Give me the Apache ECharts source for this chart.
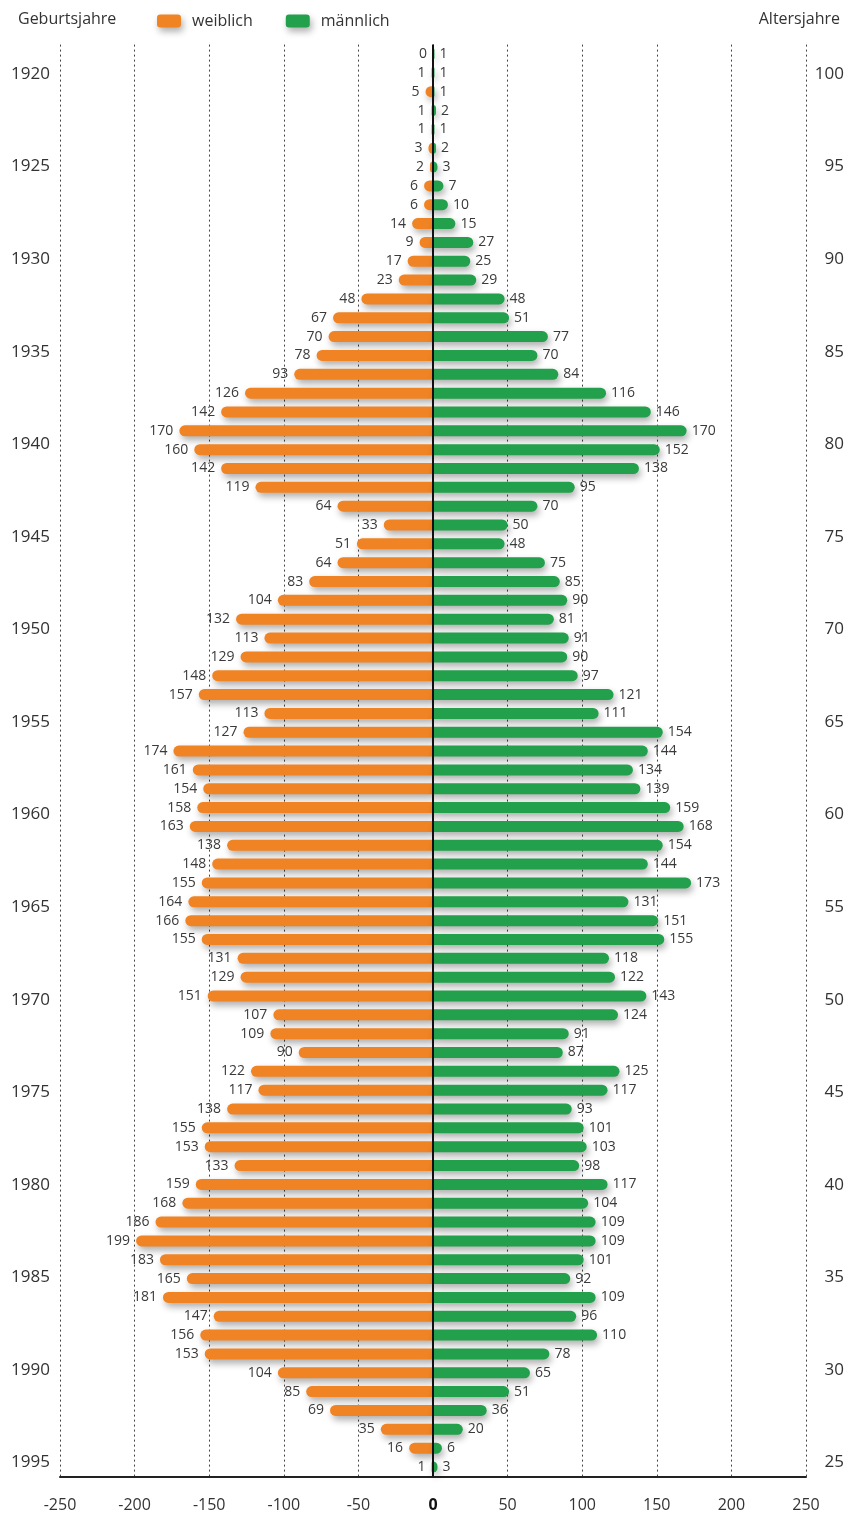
<!DOCTYPE html>
<html>
<head>
<meta charset="utf-8">
<script src="https://cdn.jsdelivr.net/npm/echarts@6/dist/echarts.min.js"></script>
<style>
  html, body { margin: 0; padding: 0; background: #fff; }
  #chart { width: 847px; height: 1518px; }
</style>
</head>
<body>
<div id="chart"></div>
<script>
// Birth cohorts, oldest at the top
const birthYears = [];
for (let y = 1919; y <= 1994; y++) birthYears.push(String(y));

// Persons per birth year
const weiblich = [0,1,5,1,1,3,2,6,6,14, 9,17,23,48,67,70,78,93,126,142,
  170,160,142,119,64,33,51,64,83,104, 132,113,129,148,157,113,127,174,161,154,
  158,163,138,148,155,164,166,155,131,129, 151,107,109,90,122,117,138,155,153,133,
  159,168,186,199,183,165,181,147,156,153, 104,85,69,35,16,1];
const maennlich = [1,1,1,2,1,2,3,7,10,15, 27,25,29,48,51,77,70,84,116,146,
  170,152,138,95,70,50,48,75,85,90, 81,91,90,97,121,111,154,144,134,139,
  159,168,154,144,173,131,151,155,118,122, 143,124,91,87,125,117,93,101,103,98,
  117,104,109,109,101,92,109,96,110,78, 65,51,36,20,6,3];

// Side scales: birth year on the left, age on the right
const yearTicks = [1920,1925,1930,1935,1940,1945,1950,1955,1960,1965,1970,1975,1980,1985,1990,1995];
const ageTicks = [100,95,90,85,80,75,70,65,60,55,50,45,40,35,30,25];
const yearRange = [1916, 1998];
const ageRange = [22, 104];
const valueRange = [-250, 250];

const FONT = "'Open Sans', 'Noto Sans', sans-serif";
const ORANGE = '#F08424';
const GREEN = '#22A04B';
const TXT = '#333333';

const chart = echarts.init(document.getElementById('chart'), null, { renderer: 'canvas' });

const shadow = { shadowColor: 'rgba(0,0,0,0.32)', shadowBlur: 7, shadowOffsetX: 2, shadowOffsetY: 4 };

chart.setOption({
  animation: false,
  textStyle: { fontFamily: FONT },
  title: [
    { text: 'Geburtsjahre', left: 13, top: 6,
      textStyle: { fontFamily: FONT, fontSize: 16, fontWeight: 'normal', color: TXT } },
    { text: 'Altersjahre', right: 2, top: 6,
      textStyle: { fontFamily: FONT, fontSize: 16, fontWeight: 'normal', color: TXT } }
  ],
  legend: {
    left: 152, top: 8,
    icon: 'roundRect',
    itemWidth: 24, itemHeight: 13,
    itemGap: 33,
    textStyle: { fontFamily: FONT, fontSize: 16, color: TXT, padding: [0, 0, 0, 6] },
    itemStyle: Object.assign({}, shadow),
    data: ['weiblich', 'männlich']
  },
  grid: [
    { left: 60, right: 41, top: 44.6, bottom: 41.6 },
    { left: 60, right: 41, top: 0, bottom: 0 }
  ],
  xAxis: [
    {
      type: 'value', gridIndex: 0,
      min: valueRange[0], max: valueRange[1], interval: 50,
      axisLine: { show: true, lineStyle: { color: '#222', width: 2 } },
      axisTick: { show: false },
      splitLine: { show: true, lineStyle: { color: '#444', width: 1, type: [2, 3] } },
      axisLabel: {
        margin: 21, fontSize: 16, color: TXT, fontFamily: FONT,
        formatter: v => (v === 0 ? '{z|0}' : String(v)),
        rich: { z: { fontSize: 16, fontWeight: 'bold', color: '#111', fontFamily: FONT } }
      }
    },
    { type: 'value', gridIndex: 1, show: false, min: 0, max: 1 }
  ],
  yAxis: [
    {
      type: 'category', gridIndex: 0, inverse: true, data: birthYears,
      axisLine: { show: false }, axisTick: { show: false }, axisLabel: { show: false },
      splitLine: { show: false }
    },
    {
      type: 'value', gridIndex: 1, position: 'left', inverse: true,
      min: yearRange[0], max: yearRange[1],
      axisLine: { show: false }, axisTick: { show: false }, splitLine: { show: false },
      axisLabel: { margin: 10, fontSize: 17, color: TXT, fontFamily: FONT,
        customValues: yearTicks, formatter: v => String(v) }
    },
    {
      type: 'value', gridIndex: 1, position: 'right',
      min: ageRange[0], max: ageRange[1],
      axisLine: { show: false }, axisTick: { show: false }, splitLine: { show: false },
      axisLabel: { margin: 39, align: 'right', fontSize: 17, color: TXT, fontFamily: FONT,
        customValues: ageTicks, formatter: v => String(v) }
    }
  ],
  series: [
    {
      name: 'weiblich', type: 'bar', xAxisIndex: 0, yAxisIndex: 0,
      data: weiblich.map(v => -v),
      barWidth: 11, barGap: '-100%',
      itemStyle: Object.assign({ color: ORANGE, borderRadius: [5.5, 0, 0, 5.5] }, shadow),
      label: {
        show: true, position: 'left', distance: 6,
        fontSize: 14, color: '#3a3a3a', fontFamily: FONT,
        formatter: p => String(Math.abs(p.value))
      },
      markLine: {
        silent: true, symbol: 'none', animation: false,
        label: { show: false },
        lineStyle: { color: '#111', width: 2, type: 'solid' },
        data: [{ xAxis: 0 }]
      },
      z: 3
    },
    {
      name: 'männlich', type: 'bar', xAxisIndex: 0, yAxisIndex: 0,
      data: maennlich,
      barWidth: 11, barGap: '-100%',
      itemStyle: Object.assign({ color: GREEN, borderRadius: [0, 5.5, 5.5, 0] }, shadow),
      label: {
        show: true, position: 'right', distance: 5,
        fontSize: 14, color: '#3a3a3a', fontFamily: FONT
      },
      z: 3
    }
  ]
});
</script>
</body>
</html>
